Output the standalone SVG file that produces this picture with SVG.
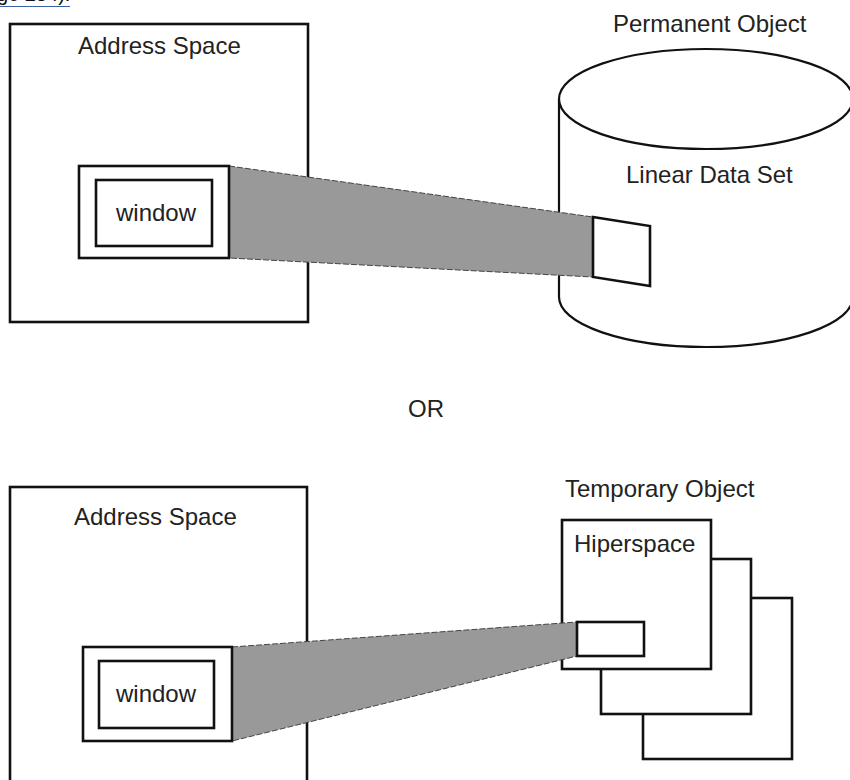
<svg xmlns="http://www.w3.org/2000/svg" width="850" height="780" viewBox="0 0 850 780">
<style>
  .box { fill: #fff; stroke: #111; stroke-width: 2.6; }
  .cyl { fill: #fff; stroke: #111; stroke-width: 2.2; }
  .beam { fill: #999; stroke: #444; stroke-width: 1; stroke-dasharray: 6 2; }
  .lbl { font-family: "Liberation Sans", Arial, sans-serif; font-size: 24px; fill: #222; }
</style>
<rect width="850" height="780" fill="#fff"/>
<g id="page-ref">
  <text x="-3" y="1" style="font-family:'Liberation Sans',Arial,sans-serif;font-size:20px;fill:#111">ge 254).</text>
  <line x1="0" y1="6.5" x2="70" y2="6.5" stroke="#3b5fa8" stroke-width="1.2"/>
</g>

<g id="address-space-top">
  <rect class="box" x="10" y="24" width="298" height="298"/>
  <text class="lbl" x="78" y="54">Address Space</text>
</g>

<g id="permanent-object">
  <text class="lbl" x="613" y="32">Permanent Object</text>
  <path class="cyl" d="M559,99 L559,297 A147,50 0 0 0 853,297 L853,99"/>
  <ellipse class="cyl" cx="706" cy="99" rx="147" ry="50"/>
  <text class="lbl" x="626" y="183">Linear Data Set</text>
</g>

<g id="address-space-bottom">
  <rect class="box" x="10" y="487" width="297" height="320"/>
  <text class="lbl" x="74" y="525">Address Space</text>
</g>

<g id="temporary-object">
  <text class="lbl" x="565" y="497">Temporary Object</text>
  <rect class="box" x="643" y="598" width="149" height="161"/>
  <rect class="box" x="601" y="559" width="150" height="155"/>
  <rect class="box" x="562" y="520" width="149" height="149"/>
  <text class="lbl" x="574" y="552">Hiperspace</text>
</g>

<g id="connectors">
  <polygon class="beam" points="229,166 593,217 593,277 229,258"/>
  <polygon class="beam" points="232,647 577,622 577,656 232,741"/>
</g>

<g id="window-top">
  <rect class="box" x="79" y="166" width="150" height="92"/>
  <rect class="box" x="96" y="180" width="116" height="66"/>
  <text class="lbl" x="116" y="221">window</text>
</g>

<g id="dataset-window">
  <polygon class="box" points="593,217 650,226 650,286 593,277"/>
</g>

<g id="window-bottom">
  <rect class="box" x="83" y="647" width="149" height="94"/>
  <rect class="box" x="99" y="661" width="115" height="67"/>
  <text class="lbl" x="116" y="702">window</text>
</g>

<g id="hiperspace-window">
  <rect class="box" x="577" y="622" width="67" height="34"/>
</g>

<g id="or-label">
  <text class="lbl" x="408" y="417">OR</text>
</g>
</svg>
